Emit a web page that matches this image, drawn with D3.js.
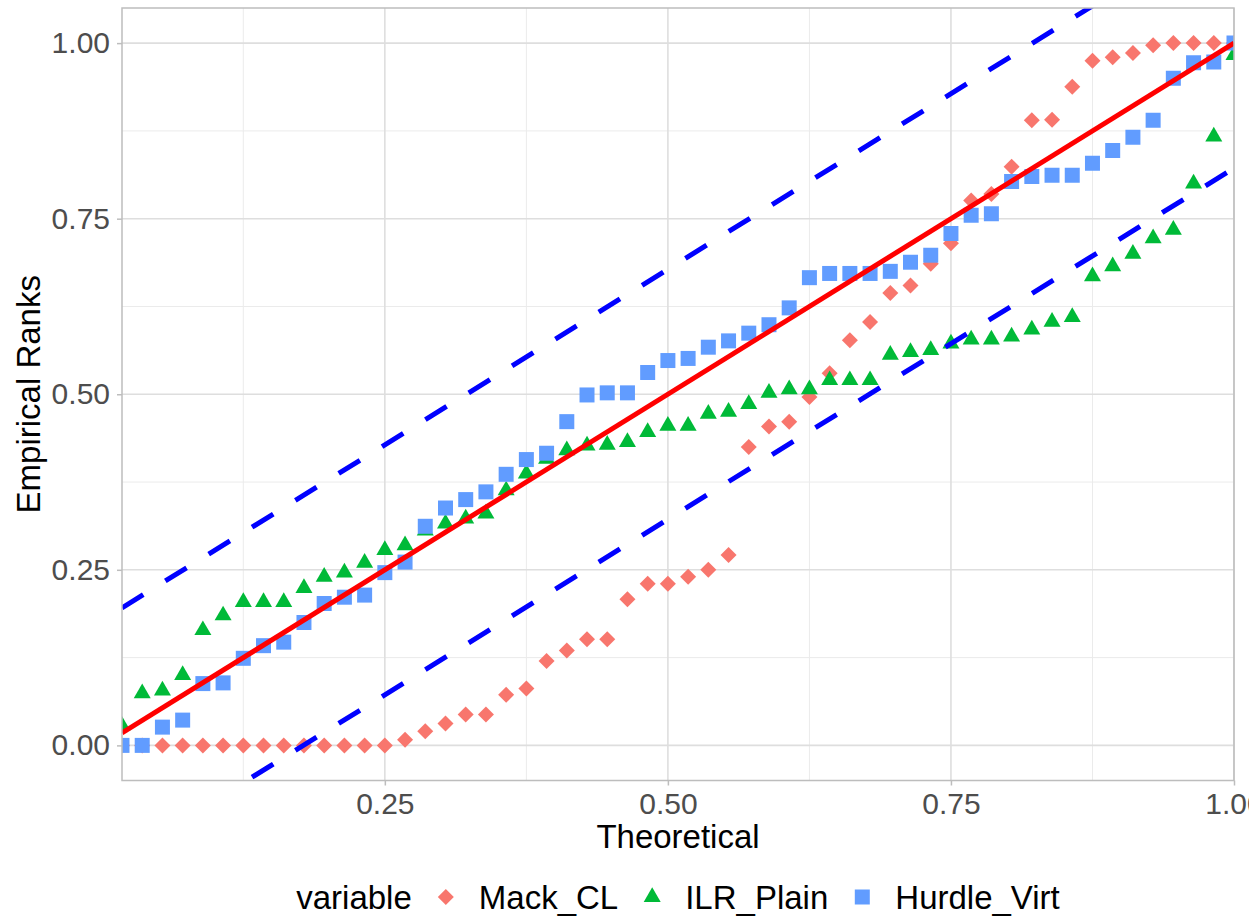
<!DOCTYPE html>
<html>
<head>
<meta charset="utf-8">
<script src="https://cdn.jsdelivr.net/npm/d3@7"></script>
<style>
  body { margin: 0; background: #ffffff; }
  svg { display: block; }
  text { font-family: "Liberation Sans", Arial, sans-serif; }
</style>
</head>
<body>
<svg id="chart" width="1249" height="918"></svg>
<script>
// ---- data -------------------------------------------------------------
const seriesNames = ["Mack_CL", "ILR_Plain", "Hurdle_Virt"];
const seriesColors = ["#F8766D", "#00BA38", "#619CFF"];
const sampleSize = 56;

// sorted empirical ranks, one value per observation
const mackCL = [
  0, 0, 0, 0, 0, 0, 0, 0, 0, 0, 0, 0, 0, 0,
  0.008, 0.020, 0.031, 0.044, 0.044, 0.072, 0.081, 0.120, 0.135, 0.151, 0.151, 0.208, 0.230, 0.230, 0.240, 0.250, 0.271,
  0.425, 0.454, 0.461, 0.496, 0.530, 0.577, 0.603, 0.644, 0.655, 0.686, 0.715, 0.776,
  0.785, 0.824, 0.890, 0.891, 0.938, 0.975, 0.980, 0.986, 0.997, 1.0, 1.0, 1.0, 1.0
];
const ilrPlain = [
  0.028, 0.074, 0.078, 0.100, 0.164, 0.185, 0.204, 0.204, 0.204, 0.224, 0.240, 0.246, 0.260, 0.278,
  0.285, 0.306, 0.316, 0.323, 0.330, 0.363, 0.387, 0.408, 0.420, 0.427, 0.428, 0.432, 0.446, 0.455, 0.455,
  0.472, 0.475, 0.486, 0.502, 0.507, 0.507, 0.520, 0.520, 0.520, 0.556, 0.560, 0.563, 0.572, 0.578,
  0.578, 0.582, 0.592, 0.603, 0.610, 0.668, 0.682, 0.700, 0.722, 0.734, 0.800, 0.867, 0.983
];
const hurdleVirt = [
  0, 0, 0.026, 0.036, 0.088, 0.089, 0.124, 0.142, 0.147, 0.175, 0.202, 0.211, 0.214, 0.246,
  0.261, 0.312, 0.338, 0.350, 0.361, 0.386, 0.407, 0.416, 0.461, 0.499, 0.502, 0.502, 0.531, 0.548, 0.551,
  0.567, 0.576, 0.587, 0.599, 0.623, 0.666, 0.672, 0.672, 0.672, 0.675, 0.688, 0.698, 0.729, 0.755,
  0.757, 0.803, 0.810, 0.812, 0.812, 0.829, 0.847, 0.866, 0.890, 0.950, 0.972, 0.973, 1.0
];

const xTicks = [0.25, 0.50, 0.75, 1.00];
const yTicks = [0.00, 0.25, 0.50, 0.75, 1.00];
const xMinorTicks = [0.125, 0.375, 0.625, 0.875];
const yMinorTicks = [0.125, 0.375, 0.625, 0.875];
const bandHalfWidth = 0.178;   // acceptance band around the identity line

// ---- layout -----------------------------------------------------------
const panel = { left: 122, right: 1234, top: 8, bottom: 780.5 };
const svg = d3.select("#chart");

const x = d3.scaleLinear().domain([1 / sampleSize, 1]).range([panel.left, panel.right]);
const y = d3.scaleLinear().domain([-0.05, 1.05]).range([panel.bottom, panel.top]);

// theoretical plotting positions i/n
const theoretical = d3.range(1, sampleSize + 1).map(i => i / sampleSize);
const allSeries = [mackCL, ilrPlain, hurdleVirt].map((vals, k) => ({
  name: seriesNames[k],
  color: seriesColors[k],
  shape: k,
  points: vals.map((v, i) => ({ t: theoretical[i], r: v }))
}));

// ---- panel grid -------------------------------------------------------
const grid = svg.append("g");
grid.selectAll("line.xminor").data(xMinorTicks).join("line")
  .attr("x1", d => x(d)).attr("x2", d => x(d))
  .attr("y1", panel.top).attr("y2", panel.bottom)
  .attr("stroke", "#EBEBEB").attr("stroke-width", 1);
grid.selectAll("line.yminor").data(yMinorTicks).join("line")
  .attr("y1", d => y(d)).attr("y2", d => y(d))
  .attr("x1", panel.left).attr("x2", panel.right)
  .attr("stroke", "#EBEBEB").attr("stroke-width", 1);
grid.selectAll("line.xmajor").data(xTicks).join("line")
  .attr("x1", d => x(d)).attr("x2", d => x(d))
  .attr("y1", panel.top).attr("y2", panel.bottom)
  .attr("stroke", "#DEDEDE").attr("stroke-width", 1.6);
grid.selectAll("line.ymajor").data(yTicks).join("line")
  .attr("y1", d => y(d)).attr("y2", d => y(d))
  .attr("x1", panel.left).attr("x2", panel.right)
  .attr("stroke", "#DEDEDE").attr("stroke-width", 1.6);

// ---- clipped plotting layer ------------------------------------------
svg.append("clipPath").attr("id", "panel-clip")
  .append("rect")
  .attr("x", panel.left).attr("y", panel.top)
  .attr("width", panel.right - panel.left).attr("height", panel.bottom - panel.top);

const plot = svg.append("g").attr("clip-path", "url(#panel-clip)");

function shapePath(shape) {
  if (shape === 0) { // filled diamond
    const h = 8;
    return `M0,${-h}L${h},0L0,${h}L${-h},0Z`;
  }
  if (shape === 1) { // filled triangle, centred on its centroid
    const s = 17;
    const top = s / Math.sqrt(3), base = s / (2 * Math.sqrt(3));
    return `M0,${-top}L${s / 2},${base}L${-s / 2},${base}Z`;
  }
  const a = 7.5; // filled square
  return `M${-a},${-a}H${a}V${a}H${-a}Z`;
}

allSeries.forEach(s => {
  plot.append("g").selectAll("path").data(s.points).join("path")
    .attr("d", shapePath(s.shape))
    .attr("transform", d => `translate(${x(d.t)},${y(d.r)})`)
    .attr("fill", s.color);
});

// identity line and band
const xr = x.domain();
const lineGen = d3.line().x(d => x(d[0])).y(d => y(d[1]));
plot.append("path")
  .attr("d", lineGen(xr.map(v => [v, v])))
  .attr("stroke", "#FF0000").attr("stroke-width", 5).attr("fill", "none");
[bandHalfWidth, -bandHalfWidth].forEach(off => {
  plot.append("path")
    .attr("d", lineGen(xr.map(v => [v, v + off])))
    .attr("stroke", "#0000FF").attr("stroke-width", 5).attr("fill", "none")
    .attr("stroke-dasharray", "25,26");
});

// panel border
svg.append("rect")
  .attr("x", panel.left).attr("y", panel.top)
  .attr("width", panel.right - panel.left).attr("height", panel.bottom - panel.top)
  .attr("fill", "none").attr("stroke", "#BDBDBD").attr("stroke-width", 1.5);

// ---- axes -------------------------------------------------------------
const fmt = d3.format(".2f");
const xAxis = svg.append("g")
  .attr("transform", `translate(0,${panel.bottom})`)
  .call(d3.axisBottom(x).tickValues(xTicks).tickFormat(fmt).tickSize(5).tickPadding(7.5));
const yAxis = svg.append("g")
  .attr("transform", `translate(${panel.left},0)`)
  .call(d3.axisLeft(y).tickValues(yTicks).tickFormat(fmt).tickSize(5).tickPadding(7));
[xAxis, yAxis].forEach(ax => {
  ax.select(".domain").remove();
  ax.selectAll(".tick line").attr("stroke", "#BDBDBD").attr("stroke-width", 1.5);
  ax.selectAll(".tick text")
    .attr("fill", "#4D4D4D")
    .style("font-size", "30px")
    .style("font-family", '"Liberation Sans", Arial, sans-serif');
});

// axis titles
svg.append("text")
  .attr("x", (panel.left + panel.right) / 2).attr("y", 848)
  .attr("text-anchor", "middle")
  .style("font-size", "33px").attr("fill", "#000")
  .text("Theoretical");
svg.append("text")
  .attr("transform", `translate(40,${(panel.top + panel.bottom) / 2}) rotate(-90)`)
  .attr("text-anchor", "middle")
  .style("font-size", "33px").attr("fill", "#000")
  .text("Empirical Ranks");

// ---- legend -----------------------------------------------------------
const legend = svg.append("g");
const legendBaseline = 909, keyY = 897;
let cursor = 0;
const title = legend.append("text").attr("x", 0).attr("y", legendBaseline)
  .style("font-size", "33px").text("variable");
cursor = title.node().getComputedTextLength();
allSeries.forEach(s => {
  const keyX = cursor + 34;
  legend.append("path")
    .attr("d", shapePath(s.shape))
    .attr("transform", `translate(${keyX},${keyY})`)
    .attr("fill", s.color);
  const label = legend.append("text").attr("x", keyX + 33).attr("y", legendBaseline)
    .style("font-size", "33px").text(s.name);
  cursor = keyX + 33 + label.node().getComputedTextLength();
});
const legendWidth = cursor;
legend.attr("transform", `translate(${(panel.left + panel.right) / 2 - legendWidth / 2},0)`);
</script>
</body>
</html>
